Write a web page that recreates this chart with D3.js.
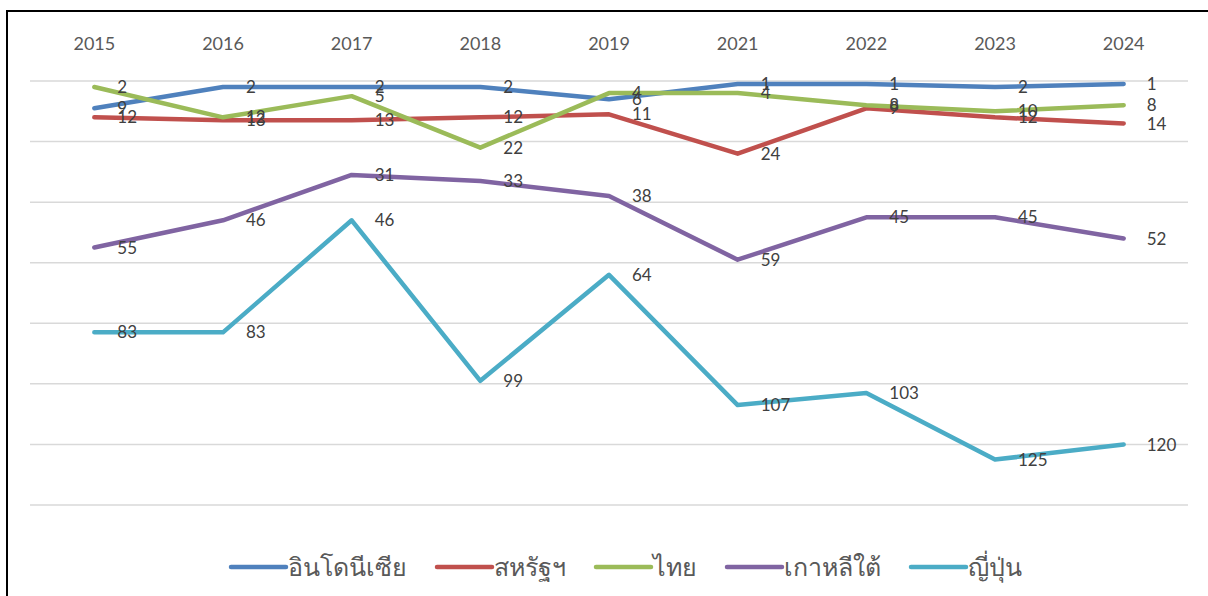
<!DOCTYPE html>
<html>
<head>
<meta charset="utf-8">
<script src="https://cdn.jsdelivr.net/npm/d3@7"></script>
<style>
    body { margin: 0; background: #fff; }
    text { font-family: Lato, "Noto Sans", "Open Sans", sans-serif; }
</style>
</head>
<body>
<div id="chart"></div>
<script>
// years on the top axis (no 2020 in the source)
var years = ["2015", "2016", "2017", "2018", "2019", "2021", "2022", "2023", "2024"];

// ranking of each country, lower is better
var indonesia = [9, 2, 2, 2, 6, 1, 1, 2, 1];
var usa = [12, 13, 13, 12, 11, 24, 9, 12, 14];
var thailand = [2, 12, 5, 22, 4, 4, 8, 10, 8];
var korea = [55, 46, 31, 33, 38, 59, 45, 45, 52];
var japan = [83, 83, 46, 99, 64, 107, 103, 125, 120];

var seriesNames = ["อินโดนีเซีย", "สหรัฐฯ", "ไทย", "เกาหลีใต้", "ญี่ปุ่น"];
var seriesColors = ["#4f81bd", "#c0504d", "#9bbb59", "#8064a2", "#4bacc6"];
var yTicks = [0, 20, 40, 60, 80, 100, 120, 140];

var series = [indonesia, usa, thailand, korea, japan].map(function (vals, i) {
    return {name: seriesNames[i], color: seriesColors[i], values: vals};
});

var svg = d3.select("#chart")
    .append("svg")
    .attr("width", 1208)
    .attr("height", 596);

// outer frame, right and bottom edges fall outside the picture
svg.append("rect")
    .attr("x", 7)
    .attr("y", 11)
    .attr("width", 1220)
    .attr("height", 620)
    .attr("fill", "none")
    .attr("stroke", "#000")
    .attr("stroke-width", 2);

var left = 30, right = 1188;

var x = d3.scaleBand()
    .domain(years)
    .range([left, right]);

var y = d3.scaleLinear()
    .domain([0, 140])
    .range([81, 505]);

function cx(d, i) {
    return x(years[i]) + x.bandwidth() / 2;
}

// gridlines
svg.append("g")
    .selectAll("line")
    .data(yTicks)
    .enter().append("line")
    .attr("x1", left)
    .attr("x2", right)
    .attr("y1", function (d) { return y(d); })
    .attr("y2", function (d) { return y(d); })
    .attr("stroke", "#d9d9d9")
    .attr("stroke-width", 1.5);

// year labels on top
var xAxis = d3.axisTop(x).tickSize(0).tickPadding(0);
var gx = svg.append("g")
    .attr("transform", "translate(0,50)")
    .call(xAxis);
gx.select(".domain").remove();
gx.selectAll("text")
    .attr("font-size", 18)
    .attr("fill", "#595959")
    .style("font-family", "Lato, 'Noto Sans', sans-serif");

var line = d3.line()
    .x(cx)
    .y(function (d) { return y(d); });

// series lines
svg.append("g")
    .selectAll("path")
    .data(series)
    .enter().append("path")
    .attr("d", function (s) { return line(s.values); })
    .attr("fill", "none")
    .attr("stroke", function (s) { return s.color; })
    .attr("stroke-width", 4.5)
    .attr("stroke-linejoin", "round")
    .attr("stroke-linecap", "round");

// value labels to the right of each point
series.forEach(function (s) {
    svg.append("g")
        .selectAll("text")
        .data(s.values)
        .enter().append("text")
        .attr("x", function (d, i) { return cx(d, i) + 23; })
        .attr("y", function (d) { return y(d); })
        .attr("dy", "0.36em")
        .attr("font-size", 17)
        .attr("fill", "#404040")
        .text(function (d) { return d; });
});

// legend
var legend = svg.append("g");
var lx = 231, ly = 567;
series.forEach(function (s) {
    legend.append("line")
        .attr("x1", lx)
        .attr("x2", lx + 55)
        .attr("y1", ly)
        .attr("y2", ly)
        .attr("stroke", s.color)
        .attr("stroke-width", 4.5)
        .attr("stroke-linecap", "round");
    var t = legend.append("text")
        .attr("x", lx + 57)
        .attr("y", ly)
        .attr("dy", "0.36em")
        .attr("font-size", 25)
        .attr("fill", "#595959")
        .text(s.name);
    lx = lx + 57 + t.node().getComputedTextLength() + 30;
});
</script>
</body>
</html>
